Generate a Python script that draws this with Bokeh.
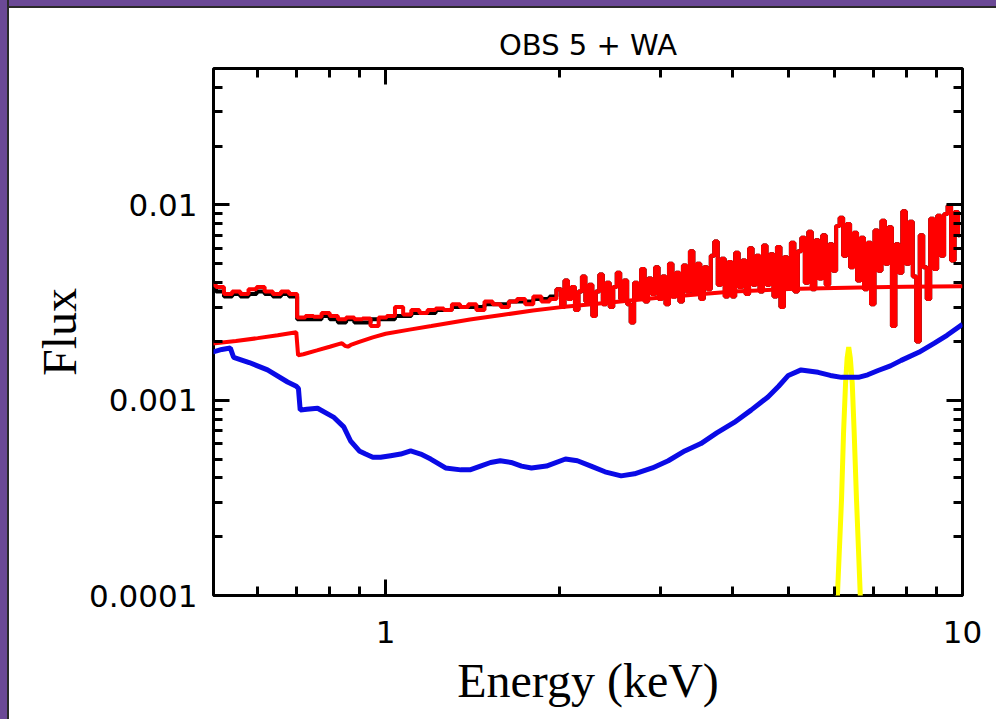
from bokeh.plotting import figure
from bokeh.models import (LogAxis, FixedTicker, CustomJSTickFormatter, Range1d,
                          GlobalInlineStyleSheet)
from bokeh.embed import file_html
from bokeh.resources import INLINE

# ---------------- data ----------------
title_text = "OBS 5 + WA"
x_label = "Energy (keV)"
y_label = "Flux"

x_major = [1, 10]
x_minor = [0.6, 0.7, 0.8, 0.9, 2, 3, 4, 5, 6, 7, 8, 9]
y_major = [0.0001, 0.001, 0.01]
y_minor = [0.0002, 0.0003, 0.0004, 0.0005, 0.0006, 0.0007, 0.0008, 0.0009,
           0.002, 0.003, 0.004, 0.005, 0.006, 0.007, 0.008, 0.009,
           0.02, 0.03, 0.04]

# binned spectrum energies (keV)
e_bins = [0.500, 0.516, 0.533, 0.551, 0.569, 0.588, 0.607, 0.627, 0.648, 0.669,
          0.691, 0.714, 0.738, 0.762, 0.787, 0.813, 0.840, 0.868, 0.897, 0.926,
          0.957, 0.988, 1.021, 1.055, 1.090, 1.126, 1.163, 1.201, 1.241, 1.282,
          1.324, 1.368, 1.413, 1.460, 1.508, 1.558, 1.609, 1.662, 1.717, 1.774,
          1.832, 1.893, 1.955,
          2.000, 2.028, 2.056, 2.085, 2.114, 2.144, 2.174, 2.204, 2.235, 2.266,
          2.298, 2.330, 2.363, 2.396, 2.429, 2.463, 2.498, 2.533, 2.568, 2.604,
          2.641, 2.678, 2.715, 2.753, 2.792, 2.831, 2.871, 2.911, 2.952, 2.993,
          3.035, 3.077, 3.120, 3.164, 3.208, 3.253, 3.299, 3.345, 3.392, 3.439,
          3.487, 3.536, 3.586, 3.636, 3.687, 3.738, 3.791, 3.844, 3.898, 3.952,
          4.008, 4.064, 4.121, 4.178, 4.237, 4.296, 4.356, 4.417, 4.479, 4.542,
          4.605, 4.670, 4.735, 4.801, 4.869, 4.937, 5.006, 5.076, 5.147, 5.219,
          5.292, 5.366, 5.441, 5.517, 5.595, 5.673, 5.752, 5.833, 5.915, 5.997,
          6.081, 6.167, 6.253, 6.341, 6.429, 6.519, 6.611, 6.703, 6.797, 6.892,
          6.989, 7.087, 7.186, 7.286, 7.388, 7.492, 7.597, 7.703, 7.811, 7.920,
          8.031, 8.143, 8.257, 8.373, 8.490, 8.609, 8.730, 8.852, 8.976, 9.101,
          9.229, 9.358, 9.489, 9.622, 9.757, 9.893]

# red binned spectrum
red_data = [0.0039, 0.0038, 0.0035, 0.0036, 0.0035, 0.0037, 0.0038, 0.0036, 0.0035, 0.0036,
            0.0035, 0.00265, 0.0027, 0.00268, 0.0028, 0.0027, 0.0026, 0.00265, 0.0026, 0.00262,
            0.0024, 0.00265, 0.0027, 0.0030, 0.00275, 0.0029, 0.0028, 0.0029, 0.00295, 0.0029,
            0.0031, 0.0030, 0.0031, 0.0029, 0.0032, 0.0031, 0.0030, 0.0032, 0.0033, 0.0031,
            0.0034, 0.0032, 0.0033,
            0.0037, 0.0030, 0.0041, 0.0033, 0.0038, 0.0029, 0.0036, 0.0043, 0.0032, 0.0039,
            0.0027, 0.0036, 0.0044, 0.0031, 0.0040, 0.0030, 0.0038, 0.0045, 0.0033, 0.0041,
            0.0031, 0.0025, 0.0040, 0.0033, 0.0047, 0.0032, 0.0042, 0.0035, 0.0048, 0.0033,
            0.0043, 0.0031, 0.0050, 0.0034, 0.0045, 0.0032, 0.0049, 0.0036, 0.0058, 0.0035,
            0.0050, 0.0033, 0.0048, 0.0037, 0.0055, 0.0065, 0.0039, 0.0053, 0.0034, 0.0051,
            0.0034, 0.0057, 0.0038, 0.0052, 0.0035, 0.0060, 0.0039, 0.0055, 0.0036, 0.0062,
            0.0039, 0.0056, 0.0034, 0.0061, 0.0030, 0.0054, 0.0038, 0.0064, 0.0036, 0.0058,
            0.0068, 0.0040, 0.0073, 0.0037, 0.0066, 0.0042, 0.0070, 0.0039, 0.0063, 0.0046,
            0.0078, 0.0086, 0.0055, 0.0080, 0.0048, 0.0072, 0.0041, 0.0068, 0.0037, 0.0064,
            0.0031, 0.0074, 0.0046, 0.0083, 0.0050, 0.0077, 0.0024, 0.0063, 0.0045, 0.0093,
            0.0050, 0.0082, 0.0043, 0.0020, 0.0070, 0.0048, 0.0033, 0.0085, 0.0047, 0.0088,
            0.0055, 0.0090, 0.0099, 0.0052, 0.0092, 0.0070]

# black binned spectrum (differs from red below 2 keV, coincides above)
black_low = [0.0038, 0.0036, 0.0034, 0.0035, 0.0034, 0.0035, 0.0036, 0.0035, 0.0034, 0.0035,
             0.0034, 0.0026, 0.0026, 0.0026, 0.0027, 0.0026, 0.0025, 0.0026, 0.0025, 0.0025,
             0.0026, 0.0026, 0.0026, 0.0027, 0.0027, 0.0028, 0.0028, 0.0028, 0.0029, 0.0029,
             0.0030, 0.0030, 0.0030, 0.0030, 0.0031, 0.0031, 0.0031, 0.0032, 0.0032, 0.0032,
             0.0033, 0.0033, 0.0034]
black_data = black_low + red_data[len(black_low):]

# red model continuum
e_model = [0.5, 0.55, 0.6, 0.65, 0.70, 0.705, 0.72, 0.76, 0.80, 0.84, 0.85, 0.86, 0.87,
           0.90, 0.95, 1.0, 1.1, 1.2, 1.4, 1.6, 1.8, 2.0, 2.4, 3.0, 3.5, 4.0, 5.0, 6.0,
           7.0, 8.0, 10.0]
red_model = [0.00195, 0.00201, 0.00208, 0.00215, 0.00223, 0.00170, 0.00172, 0.00180,
             0.00188, 0.00196, 0.00190, 0.00188, 0.00192, 0.00199, 0.00210, 0.00219,
             0.00230, 0.00240, 0.00259, 0.00274, 0.00288, 0.00299, 0.00315, 0.00336,
             0.00349, 0.00360, 0.00371, 0.00376, 0.00379, 0.00381, 0.00383]

# blue component
e_blue = [0.50, 0.52, 0.538, 0.545, 0.58, 0.624, 0.676, 0.70, 0.706, 0.711, 0.73, 0.762,
          0.812, 0.846, 0.869, 0.90, 0.923, 0.95, 0.98, 1.02, 1.062, 1.105, 1.15, 1.197,
          1.27, 1.35, 1.40, 1.46, 1.52, 1.58, 1.65, 1.72, 1.79, 1.90, 2.05, 2.15, 2.27,
          2.40, 2.56, 2.70, 2.90, 3.09, 3.30, 3.52, 3.75, 4.02, 4.30, 4.60, 4.80, 4.99,
          5.25, 5.62, 5.90, 6.17, 6.40, 6.60, 6.85, 7.14, 7.50, 7.83, 8.40, 8.94, 9.40,
          10.0]
blue_flux = [0.00176, 0.00182, 0.00185, 0.00166, 0.00156, 0.00143, 0.00124, 0.00118,
             0.00115, 0.00089, 0.00090, 0.00091, 0.00082, 0.00073, 0.00062, 0.00055,
             0.00053, 0.00051, 0.00051, 0.00052, 0.00053, 0.00055, 0.00053, 0.00050,
             0.00045, 0.00044, 0.00044, 0.00046, 0.00048, 0.00049, 0.00048, 0.00046,
             0.00045, 0.00046, 0.00050, 0.00049, 0.00046, 0.00043, 0.00041, 0.00042,
             0.00045, 0.00049, 0.00055, 0.00060, 0.00068, 0.00077, 0.00089, 0.00104,
             0.00118, 0.00134, 0.00143, 0.00139, 0.00134, 0.00131, 0.00131, 0.00131,
             0.00135, 0.00142, 0.00150, 0.00160, 0.00176, 0.00196, 0.00215, 0.00245]

# yellow emission line
e_line = [6.00, 6.07, 6.17, 6.22, 6.27, 6.31, 6.35, 6.39, 6.44, 6.49, 6.55, 6.65, 6.72]
line_flux = [0.00005, 0.00010, 0.00031, 0.00068, 0.00122, 0.00165, 0.00187, 0.00165,
             0.00122, 0.00068, 0.00031, 0.00010, 0.00005]

# ---------------- figure ----------------
page_css = GlobalInlineStyleSheet(css=(
    "html{background:"
    "linear-gradient(to right,#6b4996 0,#6b4996 7px,#2a2a2a 7px,#2a2a2a 9px,transparent 9px),"
    "linear-gradient(to bottom,#6b4996 0,#6b4996 6px,#2a2a2a 6px,#2a2a2a 8px,#ffffff 8px);}"
    "body{padding:8px 0 0 9px !important;margin:0 !important;box-sizing:border-box;}"
))

p = figure(width=987, height=711, x_axis_type="log", y_axis_type="log",
           x_range=Range1d(0.503, 10), y_range=Range1d(0.0001, 0.05),
           output_backend="svg", toolbar_location=None,
           min_border_left=204, min_border_right=34, min_border_top=60,
           min_border_bottom=124)
p.stylesheets = [page_css]

p.background_fill_color = "white"
p.border_fill_color = "white"
p.outline_line_color = "black"
p.outline_line_width = 3
p.xgrid.grid_line_color = None
p.ygrid.grid_line_color = None

p.title.text = title_text
p.title.align = "center"
p.title.text_font = "DejaVu Sans"
p.title.text_font_size = "29px"
p.title.text_font_style = "normal"
p.title.text_color = "black"
p.title.standoff = 14

label_fmt = CustomJSTickFormatter(code="return String(tick)")
blank_fmt = CustomJSTickFormatter(code="return ''")

xax = p.xaxis[0]
yax = p.yaxis[0]
xax.ticker = FixedTicker(ticks=x_major, minor_ticks=x_minor)
yax.ticker = FixedTicker(ticks=y_major, minor_ticks=y_minor)
xax.formatter = label_fmt
yax.formatter = label_fmt

top = LogAxis(ticker=FixedTicker(ticks=x_major, minor_ticks=x_minor), formatter=blank_fmt)
right = LogAxis(ticker=FixedTicker(ticks=y_major, minor_ticks=y_minor), formatter=blank_fmt)
p.add_layout(top, "above")
p.add_layout(right, "right")

for ax in [xax, yax, top, right]:
    ax.axis_line_color = None
    ax.major_tick_in = 16
    ax.major_tick_out = 0
    ax.minor_tick_in = 9
    ax.minor_tick_out = 0
    ax.major_tick_line_width = 3
    ax.minor_tick_line_width = 3
    ax.major_tick_line_color = "black"
    ax.minor_tick_line_color = "black"
    ax.major_label_text_font = "DejaVu Sans"
    ax.major_label_text_font_size = "31px"
    ax.major_label_text_color = "black"

top.major_label_standoff = 0
right.major_label_standoff = 0
xax.major_label_standoff = 25
yax.major_label_standoff = 16

xax.axis_label = x_label
yax.axis_label = y_label
for ax in [xax, yax]:
    ax.axis_label_text_font = "Liberation Serif"
    ax.axis_label_text_font_size = "48px"
    ax.axis_label_text_font_style = "normal"
    ax.axis_label_text_color = "black"
xax.axis_label_standoff = 8
yax.axis_label_standoff = 0

# ---------------- glyphs ----------------
p.line(e_line, line_flux, line_color="#ffff00", line_width=5)
p.line(e_blue, blue_flux, line_color="#0a0ae6", line_width=5)
p.step(e_bins, black_data, mode="center", line_color="black", line_width=4)
p.step(e_bins, red_data, mode="center", line_color="#ff0000", line_width=4)
p.line(e_model, red_model, line_color="#ff0000", line_width=4)

open("out.html", "w").write(file_html(p, INLINE))
